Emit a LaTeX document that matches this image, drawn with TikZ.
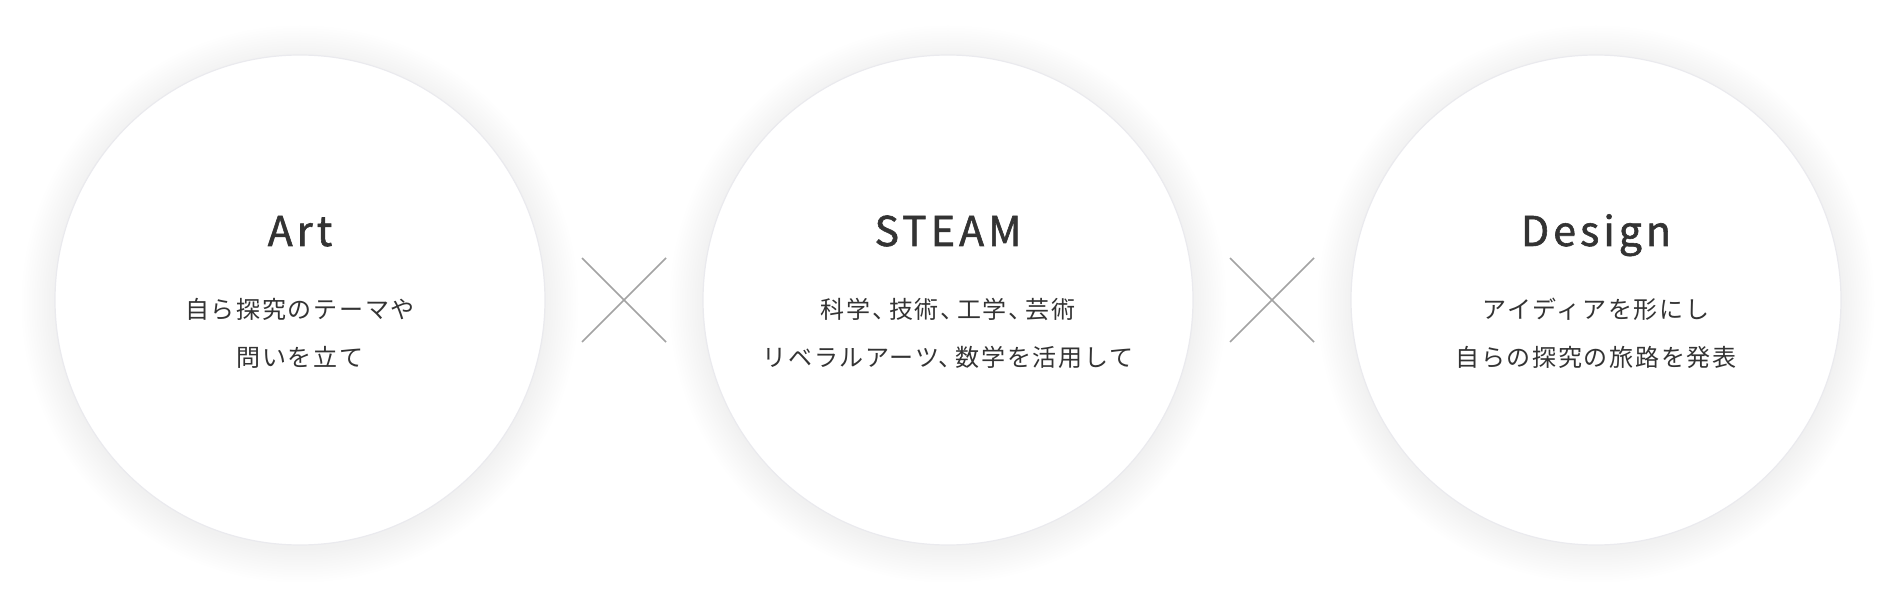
\documentclass[tikz,border=0pt]{standalone}
\usepackage{fontspec}
\setmainfont{Noto Sans CJK JP}
\newfontfamily\ttlfont[LetterSpace=10,FakeBold=1.4]{Noto Sans CJK JP}
\newfontfamily\bodyfont[LetterSpace=7]{Noto Sans CJK JP}
\newcommand{\tc}{、\hspace{-0.3em}}
\definecolor{txt}{HTML}{333333}
\definecolor{xline}{HTML}{A3A3A3}
\definecolor{rim}{HTML}{EAEAEE}
\definecolor{glowc}{HTML}{E6E6EB}
\tikzset{
  x=1pt,y=1pt,
  disc/.style={circle,minimum size=490pt,inner sep=0pt,fill=white,draw=rim,line width=1.2pt},
  ttl/.style={text=txt,font=\ttlfont\fontsize{41}{48}\selectfont,anchor=base},
  sub/.style={text=txt,font=\bodyfont\fontsize{24}{29}\selectfont,anchor=base},
  xmark/.style={draw=xline,line width=1.6pt}
}
\newcommand{\glow}[2]{%
  \foreach \i in {1,...,14}{\fill[glowc,opacity=0.04] (#1,#2-4) circle ({243+2.5*\i});}}
\begin{document}
\begin{tikzpicture}
\fill[white] (0,0) rectangle (1896,600);
\useasboundingbox (0,0) rectangle (1896,600);
\glow{300}{300}\glow{948}{300}\glow{1596}{300}
\node[disc] (c1) at (300,300) {};
\node[disc] (c2) at (948,300) {};
\node[disc] (c3) at (1596,300) {};
\node[ttl] (t1) at (300,354) {Art};
\node[ttl] (t2) at (948,354) {STEAM};
\node[ttl] (t3) at (1596,354) {Design};
\node[sub] (a1) at (300,281) {自ら探究のテーマや};
\node[sub] (a2) at (300,233) {問いを立て};
\node[sub] (b1) at (948,281) {科学\tc 技術\tc 工学\tc 芸術};
\node[sub] (b2) at (948,233) {リベラルアーツ\tc 数学を活用して};
\node[sub] (d1) at (1596,281) {アイディアを形にし};
\node[sub] (d2) at (1596,233) {自らの探究の旅路を発表};
\coordinate (x1a) at (582,342); \coordinate (x1b) at (666,258);
\coordinate (x1c) at (582,258); \coordinate (x1d) at (666,342);
\coordinate (x2a) at (1230,342); \coordinate (x2b) at (1314,258);
\coordinate (x2c) at (1230,258); \coordinate (x2d) at (1314,342);
\draw[xmark] (x1a) -- (x1b); \draw[xmark] (x1c) -- (x1d);
\draw[xmark] (x2a) -- (x2b); \draw[xmark] (x2c) -- (x2d);
\end{tikzpicture}
\end{document}
